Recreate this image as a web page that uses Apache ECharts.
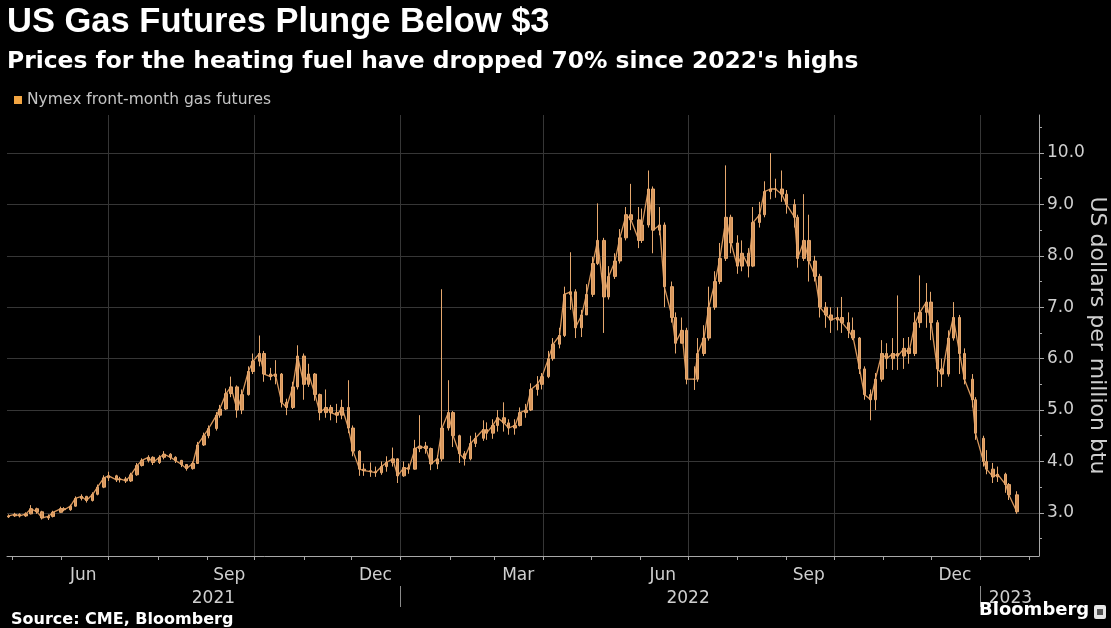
<!DOCTYPE html>
<html>
<head>
<meta charset="utf-8">
<script src="https://cdn.jsdelivr.net/npm/echarts@6/dist/echarts.min.js"></script>
<style>
html,body{margin:0;padding:0;background:#000;}
#chart{width:1111px;height:628px;}
</style>
</head>
<body>
<div id="chart"></div>
<script>
// ---- Data (half-week OHLC bars) ----
const dates = [
 '2021-04-29',
 '2021-05-03','2021-05-06','2021-05-10','2021-05-13','2021-05-17','2021-05-20','2021-05-24','2021-05-27',
 '2021-06-01','2021-06-03','2021-06-07','2021-06-10','2021-06-14','2021-06-17','2021-06-21','2021-06-24','2021-06-28',
 '2021-07-01','2021-07-06','2021-07-08','2021-07-12','2021-07-15','2021-07-19','2021-07-22','2021-07-26','2021-07-29',
 '2021-08-02','2021-08-05','2021-08-09','2021-08-12','2021-08-16','2021-08-19','2021-08-23','2021-08-26','2021-08-30',
 '2021-09-02','2021-09-07','2021-09-09','2021-09-13','2021-09-16','2021-09-20','2021-09-23','2021-09-27','2021-09-30',
 '2021-10-04','2021-10-07','2021-10-11','2021-10-14','2021-10-18','2021-10-21','2021-10-25','2021-10-28',
 '2021-11-01','2021-11-04','2021-11-08','2021-11-11','2021-11-15','2021-11-18','2021-11-22','2021-11-25','2021-11-29',
 '2021-12-02','2021-12-06','2021-12-09','2021-12-13','2021-12-16','2021-12-20','2021-12-23','2021-12-27','2021-12-30',
 '2022-01-03','2022-01-06','2022-01-10','2022-01-13','2022-01-17','2022-01-20','2022-01-24','2022-01-27','2022-01-31',
 '2022-02-03','2022-02-07','2022-02-10','2022-02-14','2022-02-17','2022-02-22','2022-02-24','2022-02-28',
 '2022-03-03','2022-03-07','2022-03-10','2022-03-14','2022-03-17','2022-03-21','2022-03-24','2022-03-28','2022-03-31',
 '2022-04-04','2022-04-07','2022-04-11','2022-04-14','2022-04-18','2022-04-21','2022-04-25','2022-04-28',
 '2022-05-02','2022-05-05','2022-05-09','2022-05-12','2022-05-16','2022-05-19','2022-05-23','2022-05-26','2022-05-31',
 '2022-06-02','2022-06-06','2022-06-09','2022-06-13','2022-06-16','2022-06-21','2022-06-23','2022-06-27','2022-06-30',
 '2022-07-05','2022-07-07','2022-07-11','2022-07-14','2022-07-18','2022-07-21','2022-07-25','2022-07-28',
 '2022-08-01','2022-08-04','2022-08-08','2022-08-11','2022-08-15','2022-08-18','2022-08-22','2022-08-25','2022-08-29',
 '2022-09-01','2022-09-06','2022-09-08','2022-09-12','2022-09-15','2022-09-19','2022-09-22','2022-09-26','2022-09-29',
 '2022-10-03','2022-10-06','2022-10-10','2022-10-13','2022-10-17','2022-10-20','2022-10-24','2022-10-27','2022-10-31',
 '2022-11-03','2022-11-07','2022-11-10','2022-11-14','2022-11-17','2022-11-21','2022-11-24','2022-11-28',
 '2022-12-01','2022-12-05','2022-12-08','2022-12-12','2022-12-15','2022-12-19','2022-12-22','2022-12-27','2022-12-29',
 '2023-01-03','2023-01-05','2023-01-09','2023-01-12','2023-01-17','2023-01-19','2023-01-24'
];
const opens = [
 2.92,
 2.94,2.97,2.94,2.98,3.08,3.02,2.90,2.93,
 3.01,3.08,3.06,3.13,3.28,3.32,3.24,3.36,3.50,
 3.68,3.72,3.64,3.66,3.62,3.74,3.92,4.02,4.08,
 3.98,4.08,4.14,4.08,4.02,3.94,3.86,3.96,4.32,
 4.50,4.64,4.90,5.02,5.32,5.45,5.00,5.30,5.75,
 5.95,6.10,5.70,5.65,5.70,5.15,5.05,5.45,
 6.05,5.50,5.70,5.30,4.95,5.05,4.95,4.90,5.05,
 4.65,4.20,3.85,3.82,3.80,3.78,3.90,3.98,4.05,
 3.72,3.88,3.85,4.25,4.30,4.25,3.95,4.05,4.65,
 4.95,4.50,4.15,4.05,4.35,4.45,4.62,4.55,
 4.70,4.85,4.75,4.65,4.70,4.95,5.00,5.40,5.50,
 5.65,6.00,6.28,6.45,7.25,7.30,6.60,6.85,
 7.25,7.85,8.30,7.20,7.60,7.90,8.35,8.80,8.70,
 8.30,8.60,9.30,8.50,8.60,7.40,6.80,6.30,6.55,
 5.60,5.60,6.10,6.40,7.00,7.50,7.95,8.75,
 8.25,7.80,8.05,7.80,8.65,8.80,9.25,9.30,9.30,
 9.20,9.00,8.75,7.95,8.30,7.90,7.60,7.00,6.85,
 6.75,6.80,6.70,6.55,6.40,5.80,5.30,5.20,5.60,
 6.10,6.00,6.10,6.05,6.20,6.10,6.70,6.90,
 7.10,6.70,5.80,5.70,6.40,6.80,6.10,5.60,5.20,
 4.45,4.00,3.85,3.70,3.75,3.55,3.35
];
const closes = [
 2.94,
 2.97,2.94,2.98,3.08,3.02,2.90,2.93,3.01,
 3.08,3.06,3.13,3.28,3.32,3.24,3.36,3.50,3.68,
 3.72,3.64,3.66,3.62,3.74,3.92,4.02,4.08,3.98,
 4.08,4.14,4.08,4.02,3.94,3.86,3.96,4.32,4.50,
 4.64,4.90,5.02,5.32,5.45,5.00,5.30,5.75,5.95,
 6.10,5.70,5.65,5.70,5.15,5.05,5.45,6.05,
 5.50,5.70,5.30,4.95,5.05,4.95,4.90,5.05,4.65,
 4.20,3.85,3.82,3.80,3.78,3.90,3.98,4.05,3.72,
 3.88,3.85,4.25,4.30,4.25,3.95,4.05,4.65,4.95,
 4.50,4.15,4.05,4.35,4.45,4.62,4.55,4.70,
 4.85,4.75,4.65,4.70,4.95,5.00,5.40,5.50,5.65,
 6.00,6.28,6.45,7.25,7.30,6.60,6.85,7.25,
 7.85,8.30,7.20,7.60,7.90,8.35,8.80,8.70,8.30,
 8.60,9.30,8.50,8.60,7.40,6.80,6.30,6.55,5.60,
 5.60,6.10,6.40,7.00,7.50,7.95,8.75,8.25,
 7.80,8.05,7.80,8.65,8.80,9.25,9.30,9.30,9.20,
 9.00,8.75,7.95,8.30,7.90,7.60,7.00,6.85,6.75,
 6.80,6.70,6.55,6.40,5.80,5.30,5.20,5.60,6.10,
 6.00,6.10,6.05,6.20,6.10,6.70,6.90,7.10,
 6.70,5.80,5.70,6.40,6.80,6.10,5.60,5.20,4.55,
 4.00,3.85,3.70,3.75,3.55,3.35,3.02
];
const lows = [
 2.90,
 2.92,2.91,2.92,2.97,2.98,2.87,2.86,2.91,
 3.00,3.03,3.04,3.12,3.24,3.20,3.22,3.34,3.48,
 3.62,3.60,3.59,3.58,3.60,3.72,3.90,3.98,3.93,
 3.95,4.04,4.03,3.97,3.89,3.82,3.84,3.95,4.30,
 4.45,4.60,4.85,5.00,5.25,4.85,4.92,5.28,5.70,
 5.85,5.55,5.58,5.50,5.05,4.90,5.02,5.40,
 5.20,5.45,5.18,4.80,4.85,4.80,4.75,4.82,4.55,
 4.10,3.72,3.72,3.70,3.70,3.74,3.80,3.90,3.58,
 3.70,3.76,3.84,4.18,4.15,3.83,3.85,4.00,4.60,
 4.28,3.97,3.92,4.02,4.28,4.40,4.42,4.44,
 4.58,4.58,4.52,4.52,4.68,4.85,4.98,5.28,5.40,
 5.62,5.96,6.20,6.42,6.95,6.40,6.42,6.85,
 7.20,7.82,6.50,7.15,7.55,7.85,8.30,8.50,8.15,
 8.25,8.55,8.05,8.40,7.00,6.70,6.10,6.30,5.50,
 5.39,5.55,6.05,6.35,6.95,7.45,7.90,8.05,
 7.65,7.70,7.58,7.78,8.55,8.75,9.10,9.13,9.05,
 8.82,8.55,7.77,7.90,7.50,7.50,6.80,6.60,6.50,
 6.55,6.50,6.40,6.36,5.70,5.20,4.80,5.00,5.55,
 5.80,5.78,5.78,5.80,5.90,6.05,6.60,6.60,
 6.36,5.45,5.45,5.65,6.35,5.70,5.50,5.05,4.42,
 3.90,3.75,3.58,3.60,3.39,3.25,2.98
];
const highs = [
 2.97,
 3.00,2.99,3.01,3.15,3.10,3.04,2.97,3.04,
 3.12,3.11,3.16,3.32,3.36,3.33,3.40,3.55,3.73,
 3.80,3.74,3.70,3.70,3.78,3.97,4.06,4.12,4.10,
 4.12,4.20,4.16,4.10,4.03,3.95,4.00,4.38,4.56,
 4.70,4.96,5.10,5.42,5.65,5.48,5.40,5.85,6.10,
 6.45,6.15,5.82,5.97,5.72,5.22,5.55,6.26,
 6.10,5.90,5.72,5.32,5.40,5.10,5.12,5.20,5.58,
 4.70,4.22,3.96,3.98,3.90,4.00,4.10,4.27,4.06,
 4.00,3.96,4.42,4.90,4.38,4.27,4.12,7.35,5.58,
 4.98,4.52,4.20,4.50,4.56,4.80,4.76,4.82,
 5.00,5.15,4.82,4.82,5.05,5.12,5.52,5.66,5.72,
 6.15,6.40,6.60,7.40,8.07,7.35,6.95,7.45,
 7.98,9.02,8.35,7.80,8.05,8.52,8.95,9.40,8.95,
 8.92,9.66,9.35,8.95,8.65,7.50,6.90,6.80,6.60,
 5.85,6.40,6.65,7.40,7.70,8.25,9.76,8.80,
 8.40,8.30,8.15,8.95,9.05,9.45,10.00,9.50,9.66,
 9.28,9.10,8.80,9.20,8.80,8.00,7.65,7.10,7.00,
 7.00,7.20,6.90,6.80,6.42,5.85,5.40,5.72,6.36,
 6.30,6.40,7.23,6.40,6.42,6.90,7.62,7.47,
 7.30,6.75,6.00,6.55,7.10,6.85,6.20,5.70,5.25,
 4.50,4.22,3.97,3.90,3.78,3.58,3.42
];

// ---- Axis tick / label definitions ----
const seriesName = 'Nymex front-month gas futures';
const xMin = '2021-04-28';
const xMax = '2023-02-07';
const monthTickDates = [
 '2021-05-01','2021-06-01','2021-07-01','2021-08-01','2021-09-01','2021-10-01','2021-11-01','2021-12-01',
 '2022-01-01','2022-02-01','2022-03-01','2022-04-01','2022-05-01','2022-06-01','2022-07-01','2022-08-01',
 '2022-09-01','2022-10-01','2022-11-01','2022-12-01','2023-01-01','2023-02-01'
];
const quarterStarts = ['2021-07-01','2021-10-01','2022-01-01','2022-04-01','2022-07-01','2022-10-01','2023-01-01'];
const monthLabels = ['Jun','Sep','Dec','Mar','Jun','Sep','Dec'];
const monthLabelDates = ['2021-06-15','2021-09-15','2021-12-16','2022-03-16','2022-06-15','2022-09-15','2022-12-16'];
const yearLabels = ['2021','2022','2023'];
const yearLabelDates = ['2021-09-05','2022-07-01','2023-01-20'];
const yearBreaks = ['2022-01-01','2023-01-01'];
const yTicks = [3,4,5,6,7,8,9,10];
const yMinorTicks = [2.5,3.5,4.5,5.5,6.5,7.5,8.5,9.5,10.5];
const yMin = 2.16, yMax = 10.74;

// ---- Build ----
const ts = s => { const p = s.split('-').map(Number); return Date.UTC(p[0], p[1]-1, p[2]); };
const ohlc = dates.map((d, i) => [ts(d), opens[i], closes[i], lows[i], highs[i]]);
const closeLine = dates.map((d, i) => [ts(d), closes[i]]);
const monthLabelMap = {}; monthLabelDates.forEach((d, i) => monthLabelMap[ts(d)] = monthLabels[i]);
const yearLabelMap = {}; yearLabelDates.forEach((d, i) => yearLabelMap[ts(d)] = yearLabels[i]);

const FONT = 'DejaVu Sans';
const AXIS_COL = '#a8a8a8';
const GRID_COL = '#363636';
const TEXT_COL = '#cfcfcf';
const BAR_COL = '#d8975c';

const chart = echarts.init(document.getElementById('chart'), null, {renderer: 'canvas'});
// x is a linear (value) axis of timestamps so custom tick/label positions can be used
const baseX = {type: 'value', gridIndex: 0, min: ts(xMin), max: ts(xMax), position: 'bottom', scale: true};

chart.setOption({
  backgroundColor: '#000',
  animation: false,
  textStyle: {fontFamily: FONT},
  title: [
    {text: 'US Gas Futures Plunge Below $3', left: 7, top: 5, padding: 0,
     textStyle: {color: '#fff', fontSize: 34.5, fontWeight: 'bold', fontFamily: 'Liberation Sans'}},
    {text: "Prices for the heating fuel have dropped 70% since 2022's highs", left: 7, top: 50, padding: 0,
     textStyle: {color: '#fff', fontSize: 23.4, fontWeight: 'bold', fontFamily: FONT}},
    {text: 'Source: CME, Bloomberg', left: 11, top: 612, padding: 0,
     textStyle: {color: '#fff', fontSize: 16, fontWeight: 'bold', fontFamily: FONT}},
    {text: 'Bloomberg', left: 979, top: 601, padding: 0,
     textStyle: {color: '#fff', fontSize: 18, fontWeight: 'bold', fontFamily: FONT}}
  ],
  graphic: [
    {type: 'rect', left: 1094, top: 605, shape: {width: 12, height: 14, r: 2}, style: {fill: '#e6e6e6'}},
    {type: 'rect', left: 1097, top: 609, shape: {width: 6, height: 6}, style: {fill: '#555'}}
  ],
  legend: {
    left: 14, top: 92, padding: 0, itemWidth: 8, itemHeight: 8, itemGap: 5,
    icon: 'rect',
    textStyle: {color: '#c4c4c4', fontSize: 15.5, fontFamily: FONT},
    data: [{name: seriesName, itemStyle: {color: '#f2a542'}}]
  },
  grid: {left: 7, right: 72, top: 115, bottom: 72, containLabel: false, outerBoundsMode: 'none'},
  xAxis: [
    Object.assign({}, baseX, {
      axisLine: {show: true, onZero: false, lineStyle: {color: AXIS_COL, width: 1}},
      axisTick: {show: true, customValues: monthTickDates.map(ts), length: 4, lineStyle: {color: AXIS_COL}},
      axisLabel: {show: true, customValues: monthLabelDates.map(ts), formatter: v => monthLabelMap[v] || '',
                  color: TEXT_COL, fontSize: 17, margin: 11, fontFamily: FONT},
      splitLine: {show: false}
    }),
    Object.assign({}, baseX, {
      axisLine: {show: false, onZero: false},
      axisTick: {show: false, customValues: quarterStarts.map(ts)},
      axisLabel: {show: false},
      splitLine: {show: true, lineStyle: {color: GRID_COL, width: 1}}
    }),
    Object.assign({}, baseX, {
      offset: 30,
      axisLine: {show: false, onZero: false},
      axisTick: {show: true, customValues: yearBreaks.map(ts), length: 21, lineStyle: {color: '#8a8a8a'}},
      axisLabel: {show: true, customValues: yearLabelDates.map(ts), formatter: v => yearLabelMap[v] || '',
                  color: TEXT_COL, fontSize: 17, margin: 4, fontFamily: FONT},
      splitLine: {show: false}
    })
  ],
  yAxis: [
    {
      type: 'value', gridIndex: 0, position: 'right', min: yMin, max: yMax,
      axisLine: {show: true, onZero: false, lineStyle: {color: AXIS_COL, width: 1}},
      axisTick: {show: true, customValues: yTicks, length: 5, lineStyle: {color: AXIS_COL}},
      axisLabel: {show: true, customValues: yTicks, formatter: v => Number(v).toFixed(1),
                  color: TEXT_COL, fontSize: 17, margin: 8, fontFamily: FONT},
      splitLine: {show: true, lineStyle: {color: GRID_COL, width: 1}},
      name: 'US dollars per million btu', nameLocation: 'middle', nameRotate: -90, nameGap: 47,
      nameMoveOverlap: false,
      nameTextStyle: {color: TEXT_COL, fontSize: 22, fontFamily: FONT}
    },
    {
      type: 'value', gridIndex: 0, position: 'right', min: yMin, max: yMax,
      axisLine: {show: false, onZero: false},
      axisTick: {show: true, customValues: yMinorTicks, length: 3, lineStyle: {color: AXIS_COL}},
      axisLabel: {show: false},
      splitLine: {show: false}
    }
  ],
  series: [
    {
      name: seriesName,
      type: 'line',
      xAxisIndex: 0, yAxisIndex: 0,
      data: closeLine,
      showSymbol: false, symbol: 'none',
      lineStyle: {color: BAR_COL, width: 1.3},
      z: 1
    },
    {
      name: seriesName,
      type: 'candlestick',
      xAxisIndex: 0, yAxisIndex: 0,
      barWidth: 3,
      data: ohlc,
      itemStyle: {color: BAR_COL, color0: BAR_COL, borderColor: '#e6a86e', borderColor0: '#e6a86e', borderWidth: 1},
      z: 2
    }
  ]
});
</script>
</body>
</html>
